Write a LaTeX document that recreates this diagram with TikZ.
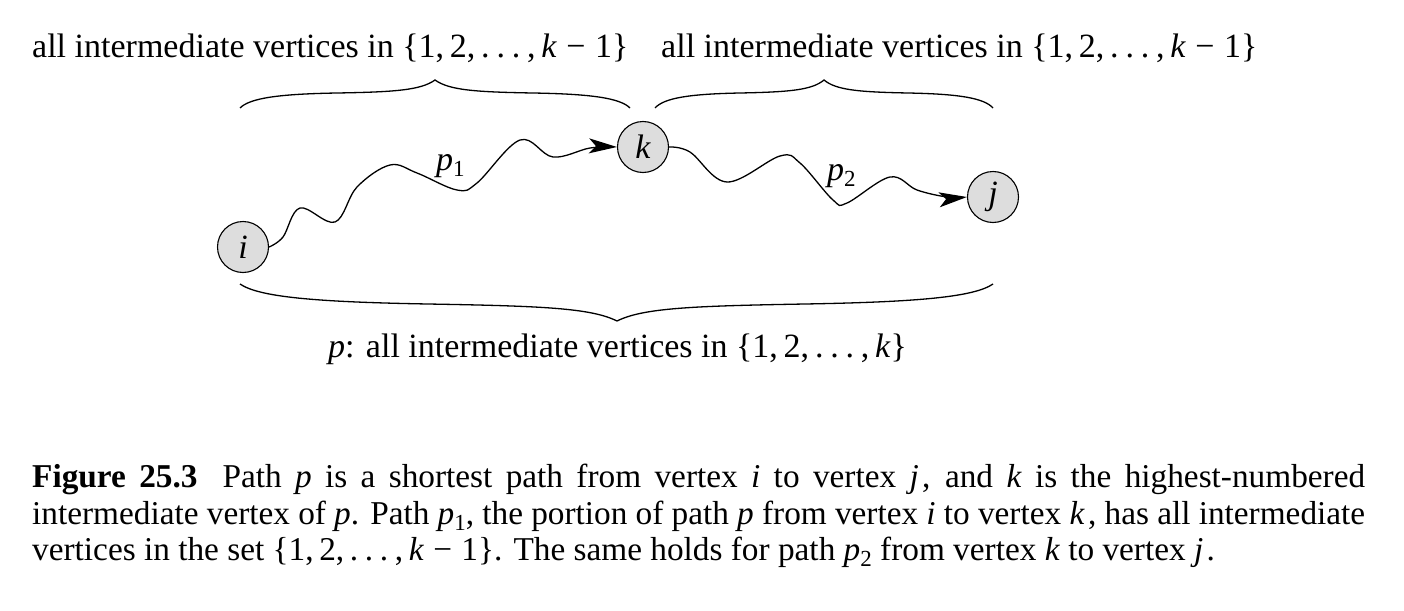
\documentclass[tikz,border=0pt]{standalone}
\usepackage{fontspec}
\setmainfont{Liberation Serif}
\usetikzlibrary{arrows.meta}
\definecolor{nodefill}{RGB}{221,221,221}
\newcommand{\myset}[1]{\{1,\kern.17em2,\kern.17em.\kern.2em.\kern.2em.\kern.2em,\kern.17em#1\}}
\newcommand{\mysub}[1]{\raisebox{-0.2em}{\fontsize{23}{23}\selectfont #1}}
\newcommand{\kmo}{\textit{k}\kern.28em−\kern.28em1}
\begin{document}
\begin{tikzpicture}[x=1pt,y=-1pt,
  txt/.style={inner sep=0pt, font=\fontsize{34}{38}\selectfont},
  captxt/.style={inner sep=0pt, font=\fontsize{33.3}{37}\selectfont},
  vertex/.style={circle, draw=black, line width=1.1pt, fill=nodefill, minimum size=51pt, inner sep=0pt, font=\fontsize{34}{38}\selectfont\itshape},
  wavy/.style={line width=1.3pt, -{Stealth[length=28pt, width=15pt, inset=7pt]}},
  bracel/.style={line width=1.3pt}
]
\useasboundingbox (0,0) rectangle (1404,610);

% top labels
\node[txt, anchor=base west] (lblA) at (32,57) {all intermediate vertices in \myset{\kmo}};
\node[txt, anchor=base west] (lblB) at (661,57) {all intermediate vertices in \myset{\kmo}};

% braces (top)
\coordinate (bA1) at (240,108); \coordinate (bAt) at (435,80); \coordinate (bA2) at (630,108);
\draw[bracel] (bA1) .. controls (250,98) and (279,94) .. (337,93)
   .. controls (396,92) and (421,90) .. (bAt)
   .. controls (449,90) and (474,92) .. (533,93)
   .. controls (591,94) and (620,98) .. (bA2);
\coordinate (bB1) at (655,108); \coordinate (bBt) at (824,80); \coordinate (bB2) at (993,108);
\draw[bracel] (bB1) .. controls (664,98) and (689,94) .. (740,93)
   .. controls (790,92) and (812,90) .. (bBt)
   .. controls (836,90) and (858,92) .. (908,93)
   .. controls (959,94) and (984,98) .. (bB2);

% bottom brace
\coordinate (bC1) at (240,284); \coordinate (bCt) at (617,321); \coordinate (bC2) at (993,284);
\draw[bracel] (bC1) .. controls (259,297) and (315,302) .. (428,304)
   .. controls (542,306) and (591,308) .. (bCt)
   .. controls (643,308) and (692,306) .. (805,304)
   .. controls (918,302) and (974,297) .. (bC2);

% vertices
\node[vertex] (i) at (243,247) {i};
\node[vertex] (k) at (643,147) {k};
\node[vertex] (j) at (993,197) {j};

% wavy paths
\draw[wavy] plot[smooth, tension=0.6] coordinates {(i.east) (283,237) (300,208) (335,222) (357,187) (390,165) (417,173) (457,190) (477,183) (520,140) (553,157) (590,148) (k.west)};
\draw[wavy] plot[smooth, tension=0.6] coordinates {(k.east) (690,152) (727,182) (780,156) (800,163) (833,200) (847,203) (890,177) (917,190) (947,197) (j.west)};

\node[txt, anchor=base west] (p1) at (436,170) {\textit{p}\mysub{1}};
\node[txt, anchor=base west] (p2) at (827,180) {\textit{p}\mysub{2}};

% bottom label
\node[txt, anchor=base west] (lblC) at (328,357) {\textit{p}: all intermediate vertices in \myset{\textit{k}}};

% caption
\node[captxt, anchor=base west] (cap1) at (32,487) {\makebox[1333pt][s]{\textbf{Figure 25.3}\hspace{25pt}Path \textit{p} is a shortest path from vertex \textit{i} to vertex \textit{j}\kern.1em, and \textit{k} is the highest-numbered}};
\node[captxt, anchor=base west] (cap2) at (32,524) {\makebox[1333pt][s]{intermediate vertex of \textit{p}. Path \textit{p}\mysub{1}, the portion of path \textit{p} from vertex \textit{i} to vertex \textit{k}\kern.1em, has all intermediate}};
\node[captxt, anchor=base west] (cap3) at (32,560) {vertices in the set \myset{\kmo}. The same holds for path \textit{p}\mysub{2} from vertex \textit{k} to vertex \textit{j}\kern.1em.};
\end{tikzpicture}
\end{document}
